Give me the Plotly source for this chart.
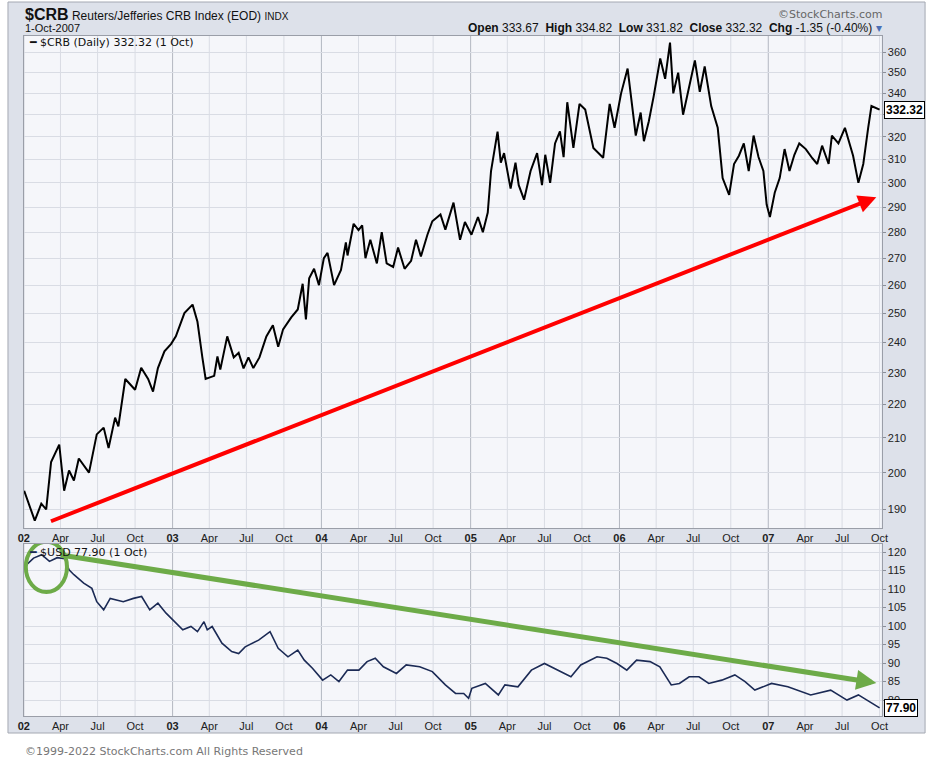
import math
import plotly.graph_objects as go

# ---------------- data ----------------
crb_dates = [
    "2002-01-02", "2002-01-28", "2002-02-13", "2002-02-25", "2002-03-09", "2002-03-29", "2002-04-10", "2002-04-22", "2002-05-04", "2002-05-16",
    "2002-06-10", "2002-06-29", "2002-07-16", "2002-07-28", "2002-08-13", "2002-08-21", "2002-09-07", "2002-10-01", "2002-10-16", "2002-11-02",
    "2002-11-14", "2002-11-26", "2002-12-12", "2002-12-28", "2003-01-09", "2003-01-30", "2003-02-19", "2003-03-03", "2003-03-15", "2003-03-23",
    "2003-04-13", "2003-04-21", "2003-04-28", "2003-05-15", "2003-05-31", "2003-06-12", "2003-06-24", "2003-07-06", "2003-07-18", "2003-08-02",
    "2003-08-19", "2003-09-04", "2003-09-17", "2003-09-29", "2003-10-19", "2003-11-04", "2003-11-16", "2003-11-24", "2003-12-02", "2003-12-14",
    "2003-12-26", "2004-01-07", "2004-01-16", "2004-02-01", "2004-02-18", "2004-03-01", "2004-03-05", "2004-03-20", "2004-04-01", "2004-04-10",
    "2004-04-18", "2004-04-30", "2004-05-16", "2004-05-28", "2004-06-09", "2004-06-25", "2004-07-07", "2004-07-23", "2004-08-08", "2004-08-20",
    "2004-09-01", "2004-09-17", "2004-09-29", "2004-10-19", "2004-10-31", "2004-11-20", "2004-12-06", "2004-12-18", "2005-01-03", "2005-01-19",
    "2005-01-31", "2005-02-12", "2005-02-20", "2005-03-08", "2005-03-16", "2005-03-24", "2005-04-09", "2005-04-21", "2005-04-29", "2005-05-12",
    "2005-05-28", "2005-06-13", "2005-06-25", "2005-07-03", "2005-07-15", "2005-07-27", "2005-08-08", "2005-08-17", "2005-08-26", "2005-09-10",
    "2005-09-25", "2005-10-09", "2005-10-29", "2005-11-22", "2005-12-08", "2005-12-20", "2006-01-05", "2006-01-21", "2006-02-10", "2006-02-22",
    "2006-03-02", "2006-03-14", "2006-03-26", "2006-04-11", "2006-04-23", "2006-05-05", "2006-05-13", "2006-05-25", "2006-06-06", "2006-06-18",
    "2006-07-05", "2006-07-17", "2006-07-29", "2006-08-14", "2006-08-30", "2006-09-11", "2006-09-27", "2006-10-09", "2006-10-21", "2006-11-02",
    "2006-11-14", "2006-11-26", "2006-12-08", "2006-12-20", "2006-12-28", "2007-01-05", "2007-01-17", "2007-01-29", "2007-02-10", "2007-02-22",
    "2007-03-06", "2007-03-18", "2007-04-03", "2007-04-19", "2007-05-01", "2007-05-13", "2007-05-29", "2007-06-06", "2007-06-22", "2007-07-08",
    "2007-07-20", "2007-07-28", "2007-08-10", "2007-08-22", "2007-09-03", "2007-09-11", "2007-10-01",
]
crb_values = [
    195, 187, 191.5, 190, 203, 208, 195, 200.6, 197.8, 204,
    200, 211, 213, 207, 216, 213.4, 228, 224.6, 231.6, 228,
    224, 231.5, 237, 239.4, 242, 250, 253, 247, 235, 228,
    229, 235.3, 231, 242, 235, 236.5, 231.4, 235, 231.5, 235,
    242, 245.8, 238.5, 244.4, 248.5, 251.3, 260.5, 247.8, 262.5, 266,
    260, 270, 272, 260, 265.6, 276, 271, 283.3, 280.8, 282.7,
    270, 277, 268, 280, 268, 266.7, 274, 266, 269, 277,
    270.6, 279, 284.3, 287, 281, 291.8, 277, 284, 279, 286,
    280, 287.8, 305, 322.3, 308.6, 312.7, 297.6, 308.6, 299, 293,
    305, 312.7, 299, 312, 300, 317, 322.4, 311, 335.8, 315,
    335, 332.4, 315, 310.7, 335, 324, 340, 352, 320.5, 331,
    318, 327, 338.7, 357, 347, 365, 340, 350, 330, 340,
    356, 340.7, 353, 334, 324, 302, 295, 308, 311.6, 317,
    305, 320.5, 311, 305, 291, 286, 296, 302, 314.5, 305,
    312, 317, 314.5, 310.5, 308, 316, 308, 320.5, 317, 324,
    317, 311.6, 300, 308, 324, 334, 332.32,
]

usd_dates = [
    "2002-01-03", "2002-01-25", "2002-02-14", "2002-03-05", "2002-03-24", "2002-04-12", "2002-04-22", "2002-05-04", "2002-05-28", "2002-06-17",
    "2002-06-29", "2002-07-16", "2002-08-01", "2002-09-02", "2002-09-27", "2002-10-17", "2002-11-06", "2002-11-26", "2002-12-16", "2003-01-02",
    "2003-01-26", "2003-02-15", "2003-03-03", "2003-03-19", "2003-03-27", "2003-04-08", "2003-05-02", "2003-05-26", "2003-06-12", "2003-06-28",
    "2003-07-31", "2003-08-28", "2003-09-17", "2003-10-11", "2003-11-04", "2003-11-20", "2003-12-10", "2004-01-04", "2004-01-24", "2004-02-13",
    "2004-03-05", "2004-04-02", "2004-04-22", "2004-05-12", "2004-06-01", "2004-07-03", "2004-07-27", "2004-08-29", "2004-09-29", "2004-10-31",
    "2004-11-25", "2004-12-15", "2004-12-27", "2005-01-04", "2005-02-06", "2005-03-10", "2005-03-26", "2005-04-27", "2005-05-30", "2005-07-01",
    "2005-08-11", "2005-09-04", "2005-09-28", "2005-11-07", "2005-12-01", "2005-12-26", "2006-01-19", "2006-02-12", "2006-03-17", "2006-04-10",
    "2006-05-08", "2006-05-28", "2006-06-21", "2006-07-15", "2006-08-08", "2006-09-09", "2006-10-11", "2006-11-05", "2006-11-29", "2007-01-09",
    "2007-02-18", "2007-03-22", "2007-04-15", "2007-06-03", "2007-07-13", "2007-08-10", "2007-08-31", "2007-10-01",
]
usd_values = [
    116.1, 118.4, 119.3, 117.5, 118.5, 118.2, 115.2, 113.9, 111.6, 110.2,
    106.6, 104.4, 107.5, 106.6, 107.5, 108, 104.4, 106.2, 103.5, 101.7,
    99, 99.9, 98.5, 101.2, 99, 99.9, 95.4, 93.1, 92.6, 94.4,
    96.2, 98.5, 94, 91.7, 93.5, 90.8, 88.6, 85.4, 86.8, 85,
    88.1, 88.1, 90.4, 91.3, 89, 87.2, 89.5, 89, 87.7, 84.1,
    81.8, 81.8, 80.5, 83.2, 84.5, 81.4, 84.1, 83.6, 88.1, 89.9,
    87.7, 86.3, 89.5, 91.7, 91.3, 89.9, 88.1, 90.8, 90.4, 89,
    84.1, 84.5, 86.3, 86.3, 84.5, 85.4, 86.8, 85, 82.7, 84.5,
    83.6, 82.3, 81.4, 82.7, 80, 81.4, 80, 77.9,
]

x_tick_dates = [
    "2002-01-01", "2002-04-01", "2002-07-01", "2002-10-01",
    "2003-01-01", "2003-04-01", "2003-07-01", "2003-10-01",
    "2004-01-01", "2004-04-01", "2004-07-01", "2004-10-01",
    "2005-01-01", "2005-04-01", "2005-07-01", "2005-10-01",
    "2006-01-01", "2006-04-01", "2006-07-01", "2006-10-01",
    "2007-01-01", "2007-04-01", "2007-07-01", "2007-10-01",
]
x_tick_text = [
    "<b>02</b>", "Apr", "Jul", "Oct",
    "<b>03</b>", "Apr", "Jul", "Oct",
    "<b>04</b>", "Apr", "Jul", "Oct",
    "<b>05</b>", "Apr", "Jul", "Oct",
    "<b>06</b>", "Apr", "Jul", "Oct",
    "<b>07</b>", "Apr", "Jul", "Oct",
]
crb_ticks = [190, 200, 210, 220, 230, 240, 250, 260, 270, 280, 290, 300, 310, 320, 330, 340, 350, 360]
usd_ticks = [80, 85, 90, 95, 100, 105, 110, 115, 120]

crb_last = 332.32
usd_last = 77.90

# ---------------- layout helpers ----------------
W, H = 936, 764
def px(p):
    return p / W
def py(p):
    return 1 - p / H

X_RANGE = ["2002-01-01", "2007-10-06"]
XDOM = [px(18), px(887)]
TOP_DOM = [py(528), py(36)]
BOT_DOM = [py(716), py(544)]

GRID = "#d9dce4"
YEARGRID = "#b3b7c1"
AXLINE = "#9a9ea8"
PLOTBG = "#f5f6fa"
FRAME = "#dde1ea"
TICKFONT = dict(family="Liberation Sans, Arial, sans-serif", size=11, color="#222222")

fig = go.Figure()
fig.add_trace(go.Scatter(x=crb_dates, y=crb_values, mode="lines",
                         line=dict(color="#000000", width=2), xaxis="x", yaxis="y",
                         hoverinfo="x+y", name="$CRB"))
fig.add_trace(go.Scatter(x=usd_dates, y=usd_values, mode="lines",
                         line=dict(color="#1b2a55", width=1.6), xaxis="x2", yaxis="y2",
                         hoverinfo="x+y", name="$USD"))

xcommon = dict(range=X_RANGE, domain=XDOM, tickvals=x_tick_dates, ticktext=x_tick_text,
               showgrid=False, zeroline=False, showline=True, linecolor=AXLINE, linewidth=1,
               mirror=True, ticks="", tickfont=TICKFONT, tickangle=0)

fig.update_layout(
    width=W, height=H,
    margin=dict(l=0, r=0, t=0, b=0),
    paper_bgcolor="white",
    plot_bgcolor="rgba(0,0,0,0)",
    showlegend=False,
    xaxis=dict(anchor="y", **xcommon),
    xaxis2=dict(anchor="y2", matches="x", **xcommon),
    yaxis=dict(type="log", domain=TOP_DOM, anchor="x", side="right",
               range=[math.log10(185.1), math.log10(368.4)],
               tickvals=crb_ticks, ticktext=[str(v) for v in crb_ticks],
               showgrid=True, gridcolor=GRID, gridwidth=1, zeroline=False,
               showline=True, linecolor=AXLINE, mirror=True,
               ticks="outside", ticklen=3, tickcolor="#8a8e98", tickfont=TICKFONT),
    yaxis2=dict(domain=BOT_DOM, anchor="x2", side="right",
                range=[75.7, 122.2],
                tickvals=usd_ticks, ticktext=[str(v) for v in usd_ticks],
                showgrid=True, gridcolor=GRID, gridwidth=1, zeroline=False,
                showline=True, linecolor=AXLINE, mirror=True,
                ticks="outside", ticklen=3, tickcolor="#8a8e98", tickfont=TICKFONT),
)

shapes = []
# outer frame
shapes.append(dict(type="rect", xref="paper", yref="paper", x0=px(2), x1=px(931), y0=py(733), y1=py(2),
                   fillcolor=FRAME, line=dict(color="#a4a8b2", width=1), layer="below"))
# plot backgrounds
for dom in (TOP_DOM, BOT_DOM):
    shapes.append(dict(type="rect", xref="paper", yref="paper", x0=XDOM[0], x1=XDOM[1], y0=dom[0], y1=dom[1],
                       fillcolor=PLOTBG, line=dict(width=0), layer="below"))
# vertical grid lines (quarters light, years darker)
for xr, yr in (("x", "y domain"), ("x2", "y2 domain")):
    for d, t in zip(x_tick_dates, x_tick_text):
        shapes.append(dict(type="line", xref=xr, yref=yr, x0=d, x1=d, y0=0, y1=1,
                           line=dict(color=YEARGRID if t.startswith("<b>") else GRID, width=1),
                           layer="below"))
# green ellipse around the 2002 high of the dollar
shapes.append(dict(type="circle", xref="x2", yref="y2", x0="2002-01-06", x1="2002-04-17",
                   y0=109.2, y1=122.8, line=dict(color="#6dab48", width=4)))
fig.update_layout(shapes=shapes)

ann = []
# red trend arrow (log axis -> annotation y in log10)
ann.append(dict(x="2007-09-23", y=math.log10(294.0), xref="x", yref="y",
                ax="2002-03-05", ay=math.log10(186.7), axref="x", ayref="y",
                text="", showarrow=True, arrowhead=2, arrowsize=0.9, arrowwidth=4,
                arrowcolor="#ff0000", standoff=0))
# green trend arrow
ann.append(dict(x="2007-09-23", y=84.6, xref="x2", yref="y2",
                ax="2002-03-29", ay=119.3, axref="x2", ayref="y2",
                text="", showarrow=True, arrowhead=2, arrowsize=0.8, arrowwidth=5,
                arrowcolor="#6dab48", standoff=0))

# header
ann.append(dict(x=px(17), y=py(15), xref="paper", yref="paper", xanchor="left", yanchor="middle",
                showarrow=False,
                text="<b><span style='font-size:16px'>$CRB</span></b> "
                     "<span style='font-size:12px'>Reuters/Jefferies CRB Index (EOD)</span> "
                     "<span style='font-size:10px'>INDX</span>",
                font=dict(family="Liberation Sans, Arial, sans-serif", size=12, color="#111111")))
ann.append(dict(x=px(17), y=py(28), xref="paper", yref="paper", xanchor="left", yanchor="middle",
                showarrow=False, text="1-Oct-2007",
                font=dict(family="Liberation Sans, Arial, sans-serif", size=11, color="#111111")))
ann.append(dict(x=px(889), y=py(14), xref="paper", yref="paper", xanchor="right", yanchor="middle",
                showarrow=False, text="©StockCharts.com",
                font=dict(family="DejaVu Sans, Verdana, sans-serif", size=11, color="#666666")))
ann.append(dict(x=px(889), y=py(28), xref="paper", yref="paper", xanchor="right", yanchor="middle",
                showarrow=False,
                text="<b>Open</b> 333.67  <b>High</b> 334.82  <b>Low</b> 331.82  "
                     "<b>Close</b> 332.32  <b>Chg</b> -1.35 (-0.40%) <span style='color:#4a6fb5'>▾</span>",
                font=dict(family="Liberation Sans, Arial, sans-serif", size=12, color="#111111")))

# in-panel legends
ann.append(dict(x=px(21), y=py(43), xref="paper", yref="paper", xanchor="left", yanchor="middle",
                showarrow=False, text="<b>━</b> $CRB (Daily) 332.32 (1 Oct)",
                font=dict(family="DejaVu Sans, Verdana, sans-serif", size=11, color="#111111")))
ann.append(dict(x=px(21), y=py(552), xref="paper", yref="paper", xanchor="left", yanchor="middle",
                showarrow=False, text="<span style='color:#1b2a55'><b>━</b></span> $USD 77.90 (1 Oct)",
                font=dict(family="DejaVu Sans, Verdana, sans-serif", size=11, color="#111111")))

# last value boxes on the price axes
ann.append(dict(x=px(889), y=math.log10(crb_last), xref="paper", yref="y", xanchor="left", yanchor="middle",
                showarrow=False, text="<b>%.2f</b>" % crb_last, bgcolor="white",
                bordercolor="#000000", borderwidth=1, borderpad=1,
                font=dict(family="Liberation Sans, Arial, sans-serif", size=12, color="#000000")))
ann.append(dict(x=px(889), y=usd_last, xref="paper", yref="y2", xanchor="left", yanchor="middle",
                showarrow=False, text="<b>%.2f</b>" % usd_last, bgcolor="white",
                bordercolor="#000000", borderwidth=1, borderpad=1,
                font=dict(family="Liberation Sans, Arial, sans-serif", size=12, color="#000000")))

# footer
ann.append(dict(x=px(17), y=py(751), xref="paper", yref="paper", xanchor="left", yanchor="middle",
                showarrow=False, text="©1999-2022 StockCharts.com All Rights Reserved",
                font=dict(family="DejaVu Sans, Verdana, sans-serif", size=11, color="#777777")))

fig.update_layout(annotations=ann)
fig.write_html("out.html", config={"displayModeBar": False},
               post_script="document.body.style.margin='0px';document.body.style.overflow='hidden';")
